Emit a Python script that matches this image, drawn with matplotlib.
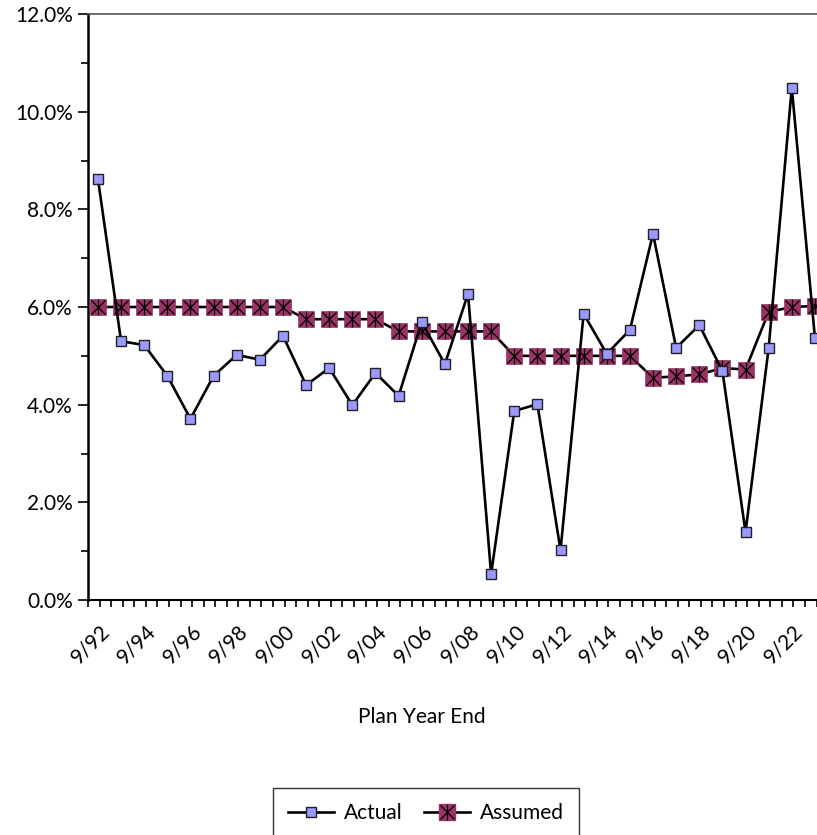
import matplotlib
matplotlib.use("Agg")
import matplotlib.pyplot as plt
import numpy as np
from matplotlib.lines import Line2D
from matplotlib.legend_handler import HandlerTuple
from matplotlib.ticker import FuncFormatter, MultipleLocator

plt.rcParams['font.family'] = ['Lato', 'DejaVu Sans']

# plan year ends 9/92 .. 9/23
years = list(range(1992, 2024))
actual = [8.62, 5.30, 5.22, 4.59, 3.71, 4.59, 5.02, 4.92, 5.41, 4.40,
          4.75, 3.99, 4.65, 4.18, 5.69, 4.83, 6.27, 0.53, 3.87, 4.01,
          1.02, 5.86, 5.04, 5.53, 7.50, 5.16, 5.63, 4.69, 1.39, 5.16,
          10.49, 5.37]
assumed = [6.00, 6.00, 6.00, 6.00, 6.00, 6.00, 6.00, 6.00, 6.00, 5.75,
           5.75, 5.75, 5.75, 5.50, 5.50, 5.50, 5.50, 5.50, 5.00, 5.00,
           5.00, 5.00, 5.00, 5.00, 4.55, 4.58, 4.62, 4.75, 4.72, 5.90,
           6.00, 6.02]
tick_years = list(range(1992, 2024, 2))
tick_labels = ["9/%02d" % (y % 100) for y in tick_years]

FS = 15

fig = plt.figure(figsize=(8.17, 8.35), dpi=100)
ax = fig.add_axes([88/817, 235/835, 729/817, 586/835])

ACT_FACE = "#9999ff"
ASM_FACE = "#993366"

ax.plot(years, actual, color="black", lw=1.9, marker="s", ms=7.2,
        mfc=ACT_FACE, mec="#222222", mew=1.0, zorder=3)
ax.plot(years, assumed, color="black", lw=1.9, zorder=2)
ax.plot(years, assumed, ls="none", marker="s", ms=11, mfc=ASM_FACE,
        mec=ASM_FACE, mew=0.5, zorder=2.5)
ax.plot(years, assumed, ls="none", marker="x", ms=10, mec="black",
        mew=0.9, zorder=2.6)
ax.plot(years, assumed, ls="none", marker="|", ms=11, mec="black",
        mew=0.9, zorder=2.6)

ax.set_xlim(1991.57, 2023.09)
ax.set_ylim(0, 12)

ax.yaxis.set_major_locator(MultipleLocator(2))
ax.yaxis.set_minor_locator(MultipleLocator(1))
ax.yaxis.set_major_formatter(FuncFormatter(lambda v, p: "%.1f%%" % v))

ax.set_xticks([y + 0.05 for y in tick_years])
ax.set_xticklabels(tick_labels, rotation=45, ha="right",
                   rotation_mode="anchor")
ax.set_xticks(np.arange(1991.57, 2023.2, 0.5), minor=True)

ax.tick_params(axis="y", which="major", length=7, width=1.2,
               labelsize=FS, pad=4, colors="black")
ax.tick_params(axis="y", which="minor", length=5, width=1.2)
ax.tick_params(axis="x", which="major", length=0, labelsize=FS, pad=15)
ax.tick_params(axis="x", which="minor", length=5, width=1.2)

ax.spines["left"].set_linewidth(1.8)
ax.spines["bottom"].set_linewidth(1.5)
ax.spines["top"].set_linewidth(1.2)
ax.spines["top"].set_color("#555555")
ax.spines["right"].set_visible(False)

fig.text(422/817, 1 - 717/835, "Plan Year End", ha="center", va="center",
         fontsize=FS)

h_act = Line2D([], [], color="black", lw=1.9, marker="s", ms=7.2,
               mfc=ACT_FACE, mec="#222222", mew=1.0)
h_asm = (Line2D([], [], color="black", lw=1.9),
         Line2D([], [], ls="none", marker="s", ms=11, mfc=ASM_FACE,
                mec=ASM_FACE),
         Line2D([], [], ls="none", marker="x", ms=10, mec="black", mew=0.9),
         Line2D([], [], ls="none", marker="|", ms=11, mec="black", mew=0.9))
leg = fig.legend([h_act, h_asm], ["Actual", "Assumed"], ncol=2,
                 loc="upper center", bbox_to_anchor=(426/817, 1 - 778/835),
                 fontsize=FS, frameon=True, fancybox=False,
                 handler_map={tuple: HandlerTuple(ndivide=1)},
                 handlelength=2.2, handletextpad=0.5, columnspacing=1.0,
                 borderpad=0.7)
leg.get_frame().set_edgecolor("black")
leg.get_frame().set_linewidth(1.0)

fig.savefig("out.png", dpi=100)
